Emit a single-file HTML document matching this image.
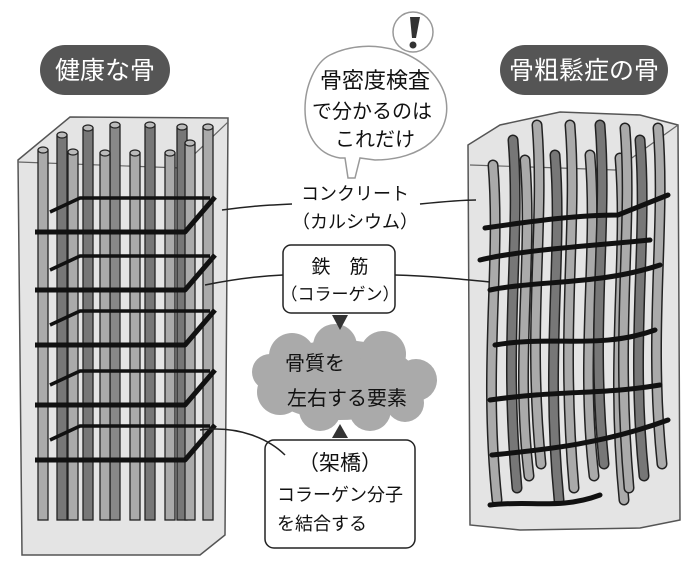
<!DOCTYPE html>
<html><head><meta charset="utf-8"><style>
html,body{margin:0;padding:0;background:#fff;}
svg{display:block;}
text{font-family:"Liberation Sans","Noto Sans CJK JP",sans-serif;fill:#111;}
</style></head><body>
<svg id="s" width="700" height="573" viewBox="0 0 700 573" xmlns="http://www.w3.org/2000/svg">
<!-- left column -->
<path d="M18,160 L70,117 L228,118 L225,535 L200,555 L22,555 Z" fill="#e4e4e4" stroke="#555" stroke-width="1.5"/>
<path d="M18,162 L180,168 L228,122" fill="none" stroke="#666" stroke-width="1.2"/>
<g id="lrods"></g>
<!-- right column -->
<path d="M468,145 L500,125 L560,112 L640,115 L678,125 L680,520 L640,528 L520,530 L470,525 Z" fill="#e4e4e4" stroke="#555" stroke-width="1.5"/>
<path d="M470,165 L560,168 L615,170 L678,125" fill="none" stroke="#666" stroke-width="1.2"/>
<g id="rrods"></g>
<!-- pills -->
<rect x="40" y="45" width="130" height="50" rx="25" fill="#555"/>
<text x="105" y="79" font-size="25" text-anchor="middle" style="fill:#fff">健康な骨</text>
<rect x="500" y="45" width="168" height="50" rx="25" fill="#555"/>
<text x="584" y="79" font-size="25" text-anchor="middle" style="fill:#fff">骨粗鬆症の骨</text>
<!-- speech bubble -->
<path d="M340,158 C290,150 300,70 330,55 C370,35 430,50 445,95 C455,135 420,160 375,160 L360,158 L355,178 L348,178 L345,158 Z" fill="#fff" stroke="#999" stroke-width="1.5"/>
<circle cx="413" cy="32" r="20" fill="#fff" stroke="#999" stroke-width="1.5"/>
<path d="M410,17 L420,17 L416,38 L412,38 Z" fill="#333"/>
<circle cx="413" cy="45" r="3.5" fill="#333"/>
<text x="375" y="88" font-size="22" text-anchor="middle">骨密度検査</text>
<text x="372" y="118" font-size="20" text-anchor="middle">で分かるのは</text>
<text x="375" y="146" font-size="20" text-anchor="middle">これだけ</text>
<!-- concrete labels -->
<text x="355" y="200" font-size="18" text-anchor="middle">コンクリート</text>
<text x="355" y="228" font-size="18" text-anchor="middle">（カルシウム）</text>
<path d="M222,210 C250,206 270,205 292,204" fill="none" stroke="#222" stroke-width="1.5"/>
<path d="M420,204 C440,202 460,200 476,200" fill="none" stroke="#222" stroke-width="1.5"/>
<!-- cloud -->
<g fill="#aaa">
<ellipse cx="340" cy="380" rx="78" ry="40"/>
<circle cx="292" cy="356" r="23"/><circle cx="335" cy="346" r="22"/><circle cx="383" cy="354" r="23"/>
<circle cx="416" cy="380" r="21"/><circle cx="280" cy="392" r="23"/><circle cx="320" cy="410" r="21"/>
<circle cx="370" cy="410" r="21"/><circle cx="405" cy="403" r="19"/><circle cx="270" cy="372" r="18"/>
</g>
<text x="285" y="370" font-size="20">骨質を</text>
<text x="287" y="405" font-size="20">左右する要素</text>
<!-- rebar box -->
<rect x="283" y="245" width="112" height="68" rx="8" fill="#fff" stroke="#222" stroke-width="1.5"/>
<text x="340" y="273" font-size="19" text-anchor="middle">鉄　筋</text>
<text x="340" y="300" font-size="17" text-anchor="middle">（コラーゲン）</text>
<path d="M205,285 C230,280 260,276 283,275" fill="none" stroke="#222" stroke-width="1.5"/>
<path d="M395,275 C430,276 460,279 490,282" fill="none" stroke="#222" stroke-width="1.5"/>
<path d="M332,315 L348,315 L340,330 Z" fill="#333"/>
<path d="M332,438 L348,438 L340,424 Z" fill="#333"/>
<!-- cross-link box -->
<rect x="265" y="440" width="150" height="108" rx="9" fill="#fff" stroke="#222" stroke-width="1.5"/>
<text x="340" y="470" font-size="21" text-anchor="middle">（架橋）</text>
<text x="340" y="501" font-size="18" text-anchor="middle">コラーゲン分子</text>
<text x="277" y="530" font-size="18">を結合する</text>
<path d="M200,430 C240,425 270,440 285,455" fill="none" stroke="#222" stroke-width="1.5"/>
</svg>
<script>
var NS="http://www.w3.org/2000/svg";
function el(p,t,a){var e=document.createElementNS(NS,t);for(var k in a)e.setAttribute(k,a[k]);p.appendChild(e);return e;}
var L=document.getElementById('lrods');
var back=[[88,128,'#777'],[115,125,'#888'],[150,125,'#777'],[182,127,'#777'],[208,127,'#aaa'],[62,135,'#777']];
var front=[[43,150,'#aaa'],[73,152,'#aaa'],[105,153,'#aaa'],[135,153,'#aaa'],[170,153,'#aaa'],[190,143,'#aaa']];
back.concat(front).forEach(function(r){
 el(L,'rect',{x:r[0]-5,y:r[1],width:10,height:520-r[1],fill:r[2],stroke:'#222','stroke-width':1.3});
 el(L,'ellipse',{cx:r[0],cy:r[1],rx:5,ry:3,fill:'#bbb',stroke:'#222','stroke-width':1.2});
});
[232,290,345,405,460].forEach(function(y){
 el(L,'path',{d:'M35,'+y+' L185,'+y+' L215,'+(y-35),fill:'none',stroke:'#111','stroke-width':5,'stroke-linejoin':'round'});
 el(L,'path',{d:'M50,'+(y-20)+' L80,'+(y-34)+' L210,'+(y-34),fill:'none',stroke:'#111','stroke-width':3.5});
});
var R=document.getElementById('rrods');
var rx=[493,513,525,537,555,570,590,600,620,625,640,658];
rx.forEach(function(x,i){
 var top=[165,140,160,125,155,125,155,125,158,128,140,128][i];
 var c=(i%3==1)?'#777':'#aaa';
 var bot=500-(i%4)*12;
 var d='M'+x+','+top+' C'+(x+8)+','+(top+100)+' '+(x-10)+','+(top+200)+' '+(x+4)+','+bot;
 el(R,'path',{d:d,fill:'none',stroke:'#222','stroke-width':11,'stroke-linecap':'round'});
 el(R,'path',{d:d,fill:'none',stroke:c,'stroke-width':8,'stroke-linecap':'round'});
});
[[225,'M485,228 C540,220 580,215 618,215 L668,195'],[285,'M490,290 C540,280 600,285 660,265'],
 [340,'M495,345 C550,335 600,350 655,330'],[395,'M490,400 C560,390 600,395 660,385'],[455,'M492,455 C540,450 600,445 668,420'],
 [0,'M480,260 C520,250 600,245 650,240'],[0,'M490,505 C530,500 560,510 600,495']].forEach(function(b){
 el(R,'path',{d:b[1],fill:'none',stroke:'#111','stroke-width':5,'stroke-linecap':'round'});
});
</script>
</body></html>
